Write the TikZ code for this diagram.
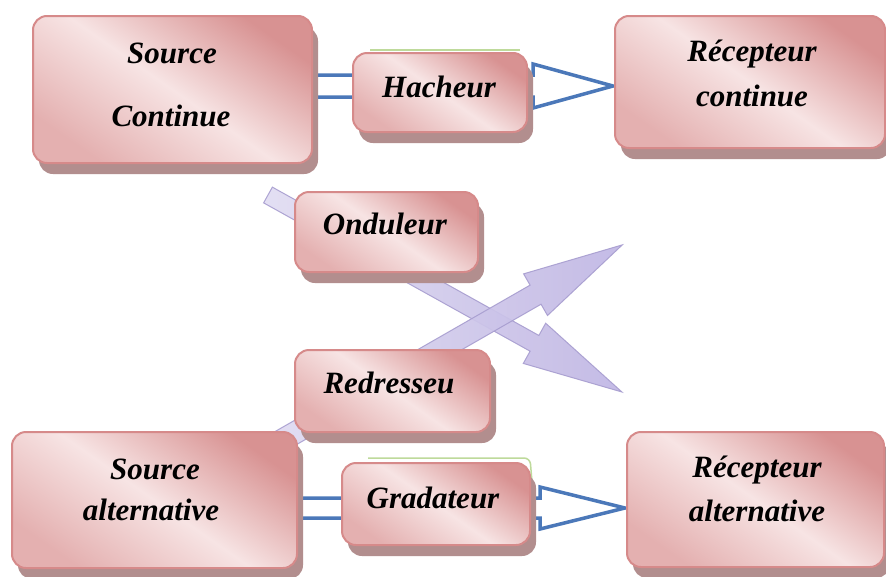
\documentclass[tikz,border=0pt]{standalone}
\usepackage{fontspec}
\setmainfont{Liberation Serif}
\usetikzlibrary{shadows,calc}
\definecolor{pkdark}{RGB}{216,146,146}
\definecolor{pklight}{RGB}{247,228,228}
\definecolor{pkmid}{RGB}{228,176,176}
\definecolor{pkborder}{RGB}{214,138,138}
\definecolor{shadowc}{RGB}{178,142,142}
\definecolor{blueline}{RGB}{75,120,185}
\definecolor{lavfill}{RGB}{192,182,228}
\definecolor{lavlight}{RGB}{225,221,242}
\definecolor{lavedge}{RGB}{168,158,208}
\definecolor{greenedge}{RGB}{190,218,155}
\begin{document}
\begin{tikzpicture}[x=1pt,y=-1pt,
 boxst/.style={rectangle, rounded corners=14pt, draw=pkborder, line width=2pt,
   top color=pkdark, bottom color=pkmid, middle color=pklight, shading angle=-35,
   general shadow={fill=shadowc, shadow xshift=6pt, shadow yshift=-11pt}, inner sep=0pt},
 lbl/.style={font=\fontsize{31}{36}\selectfont\bfseries\itshape, inner sep=0pt, text=black},
 hollow/.style={draw=blueline, line width=3.5pt, fill=white, line join=miter},
 lavarrow/.style={left color=lavlight, right color=lavfill, draw=lavedge, line width=1pt, opacity=0.92}
]
\useasboundingbox[fill=white] (0,0) rectangle (886,576);

% purple arrows (behind boxes)
\begin{scope}[shift={(268,195)}, rotate=-29.1]
  \path[lavarrow] (0,-9) -- (305,-9) -- (305,-23) -- (405,0) -- (305,23) -- (305,9) -- (0,9) -- cycle;
\end{scope}
\begin{scope}[shift={(265,450)}, rotate=29.86]
  \path[lavarrow] (0,-11) -- (312,-11) -- (312,-24) -- (412,0) -- (312,24) -- (312,11) -- (0,11) -- cycle;
\end{scope}

% blue hollow arrows
\coordinate (t1) at (613,86);
\coordinate (t2) at (625,508);
\draw[hollow] (300,75) -- (533,75) -- (533,64) -- (t1) -- (533,108) -- (533,97) -- (300,97);
\draw[hollow] (290,498) -- (540,498) -- (540,487) -- (t2) -- (540,529) -- (540,518) -- (290,518);

% faint green edges behind small boxes
\draw[greenedge, line width=1.5pt, rounded corners=6pt] (368,458) -- (530,458) -- (532,482);
\draw[greenedge, line width=1.2pt, rounded corners=6pt] (370,50) -- (520,50);

% boxes
\node[boxst, minimum width=279pt, minimum height=147pt] (src) at (172.5,89.5) {};
\node[boxst, minimum width=174pt, minimum height=79pt] (hach) at (440,92.5) {};
\node[boxst, minimum width=270pt, minimum height=132pt] (rcont) at (750,82) {};
\node[boxst, minimum width=183pt, minimum height=80pt] (ond) at (386.5,232) {};
\node[boxst, minimum width=195pt, minimum height=82pt] (red) at (392.5,391) {};
\node[boxst, minimum width=285pt, minimum height=136pt] (salt) at (154.5,500) {};
\node[boxst, minimum width=188pt, minimum height=82pt] (grad) at (436,504) {};
\node[boxst, minimum width=257pt, minimum height=135pt] (ralt) at (755.5,499.5) {};

% texts
\node[lbl] (srcA) at (172,53) {Source};
\node[lbl] (srcB) at (171,116) {Continue};
\node[lbl] (hachT) at (439,87) {Hacheur};
\node[lbl] (rcA) at (752,54) {Récepteur};
\node[lbl] (rcB) at (752,96) {continue};
\node[lbl] (ondT) at (385,224) {Onduleur};
\node[lbl] (redT) at (389,383) {Redresseu};
\node[lbl] (saA) at (155,469) {Source};
\node[lbl] (saB) at (151,510) {alternative};
\node[lbl] (gradT) at (433,498) {Gradateur};
\node[lbl] (raA) at (757,470) {Récepteur};
\node[lbl] (raB) at (757,511) {alternative};
\end{tikzpicture}
\end{document}
